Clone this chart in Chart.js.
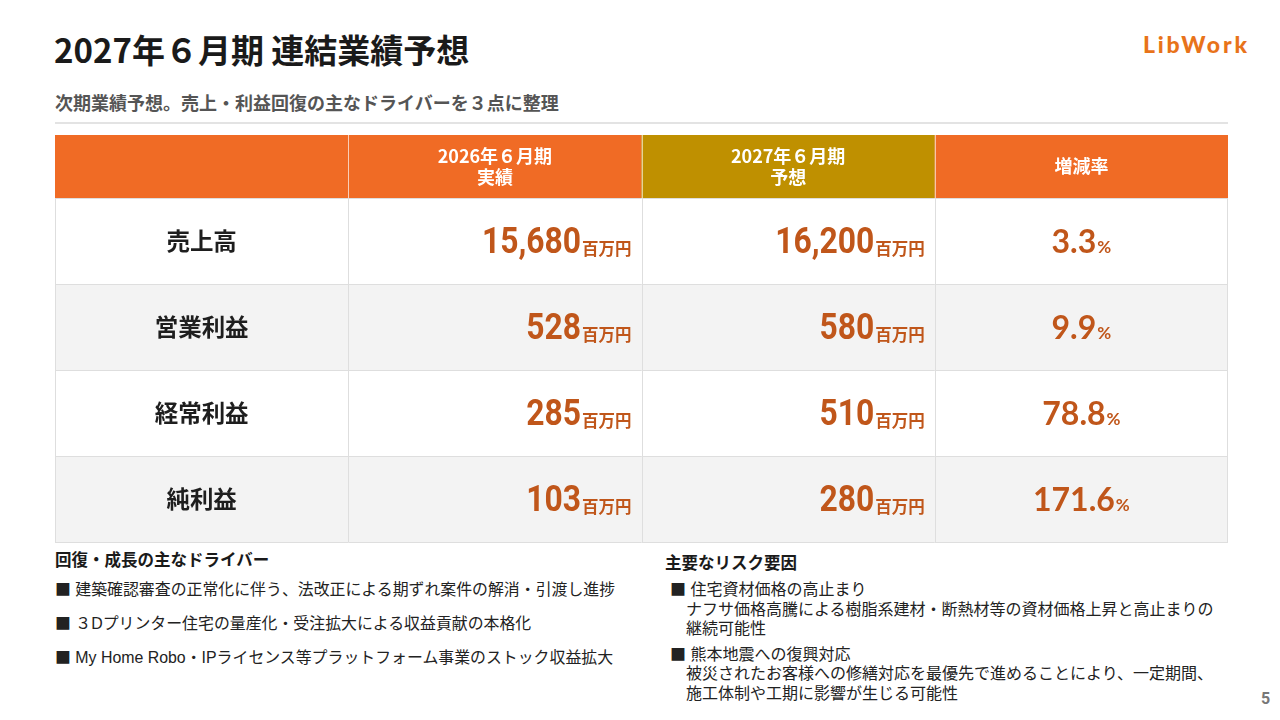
<!DOCTYPE html>
<html lang="ja">
<head>
<meta charset="utf-8">
<title>2027年６月期 連結業績予想</title>
<script src="https://cdn.jsdelivr.net/npm/chart.js@4.4.1/dist/chart.umd.min.js"></script>
<style>
  html, body { margin: 0; padding: 0; background: #fff; }
  body { width: 1280px; height: 720px; position: relative; overflow: hidden;
         font-family: "Noto Sans CJK JP", "Noto Sans", sans-serif; color: #222; }
  .title { position: absolute; left: 54px; top: 25px; font-size: 33px; font-weight: 700; color: #1a1a1a; }
  .logo { position: absolute; left: 1143px; top: 30px; font-family: Lato, "Open Sans", sans-serif; font-size: 23px; font-weight: 900; color: #E8731A; letter-spacing: 2.8px; }
  .subtitle { position: absolute; left: 55px; top: 89px; font-size: 18px; font-weight: 700; color: #555; }
  .rule { position: absolute; left: 55px; top: 122px; width: 1173px; height: 2px; background: #e3e3e3; }
  #tableWrap { position: absolute; left: 55px; top: 135px; width: 1173px; height: 408px; }
  .block { position: absolute; font-family: "Liberation Sans", Arial, "Noto Sans CJK JP", sans-serif; color: #222; }
  .block h3 { margin: 0; font-family: "Noto Sans CJK JP", sans-serif; font-size: 16.5px; font-weight: 700; color: #1a1a1a; }
  .sq { font-family: "Noto Sans CJK JP", sans-serif; }
  .left { left: 55px; top: 547px; }
  .left p { margin: 0; font-size: 15.9px; line-height: 33px; white-space: nowrap; }
  .left h3 { margin-bottom: 1px; }
  .right { left: 665px; top: 550px; }
  .right h3 { margin-bottom: 5px; }
  .right .item { font-size: 16px; line-height: 19.5px; margin: 0 0 5px 5px; white-space: nowrap; }
  .right .item span.ln { display: block; padding-left: 16px; }
  .right .item span.head { display: block; padding-left: 0; }
  .page { position: absolute; left: 1261px; top: 689px; font-family: Roboto, sans-serif; font-weight: 700; font-size: 16px; color: #777; }
</style>
</head>
<body>
<div class="title">2027年６月期 連結業績予想</div>
<div class="logo">LibWork</div>
<div class="subtitle">次期業績予想。売上・利益回復の主なドライバーを３点に整理</div>
<div class="rule"></div>

<div id="tableWrap"><canvas id="forecastTable" width="1173" height="408"></canvas></div>

<div class="block left">
  <h3>回復・成長の主なドライバー</h3>
  <p><span class="sq">■</span> 建築確認審査の正常化に伴う、法改正による期ずれ案件の解消・引渡し進捗</p>
  <p><span class="sq">■</span> ３Dプリンター住宅の量産化・受注拡大による収益貢献の本格化</p>
  <p><span class="sq">■</span> My Home Robo・IPライセンス等プラットフォーム事業のストック収益拡大</p>
</div>

<div class="block right">
  <h3>主要なリスク要因</h3>
  <div class="item">
    <span class="head"><span class="sq">■</span> 住宅資材価格の高止まり</span>
    <span class="ln">ナフサ価格高騰による樹脂系建材・断熱材等の資材価格上昇と高止まりの</span>
    <span class="ln">継続可能性</span>
  </div>
  <div class="item">
    <span class="head"><span class="sq">■</span> 熊本地震への復興対応</span>
    <span class="ln">被災されたお客様への修繕対応を最優先で進めることにより、一定期間、</span>
    <span class="ln">施工体制や工期に影響が生じる可能性</span>
  </div>
</div>

<div class="page">5</div>

<script>
// table data
const rowLabels = ['売上高', '営業利益', '経常利益', '純利益'];
const columnKeys = ['item', 'actual', 'forecast', 'change'];
const columnHeaders = [[''], ['2026年６月期', '実績'], ['2027年６月期', '予想'], ['増減率']];
const actual2026 = [15680, 528, 285, 103];     // 百万円
const forecast2027 = [16200, 580, 510, 280];   // 百万円
const changeRate = [3.3, 9.9, 78.8, 171.6];    // %
const unitLabel = '百万円';

const HEADER_H = 63;
const headerColors = ['#F06B25', '#F06B25', '#BF9000', '#F06B25'];
const valueColor = '#C0561A';
const NUM_SQUEEZE = 0.86; // numbers in the source use a condensed face

const tablePlugin = {
    id: 'tableCells',
    afterDraw(chart) {
        const { ctx, chartArea, scales: { x, y } } = chart;
        const colW = chartArea.width / columnKeys.length;
        const rowH = chartArea.height / rowLabels.length;

        ctx.save();

        // header row (sits in the top padding)
        columnKeys.forEach((key, c) => {
            const cx = x.getPixelForValue(c);
            const left = cx - colW / 2;
            ctx.fillStyle = headerColors[c];
            ctx.fillRect(left, chartArea.top - HEADER_H, colW, HEADER_H);
            ctx.fillStyle = '#fff';
            ctx.font = '700 18px "Noto Sans CJK JP", sans-serif';
            ctx.textAlign = 'center';
            ctx.textBaseline = 'middle';
            const lines = columnHeaders[c];
            const midY = chartArea.top - HEADER_H / 2;
            lines.forEach((line, i) => {
                const off = (i - (lines.length - 1) / 2) * 21;
                ctx.fillText(line, cx, midY + off);
            });
        });
        // light dividers in the header
        ctx.strokeStyle = 'rgba(255,255,255,0.6)';
        ctx.lineWidth = 1;
        for (let c = 1; c < columnKeys.length; c++) {
            const xe = Math.round(x.getPixelForValue(c) - colW / 2) + 0.5;
            ctx.beginPath();
            ctx.moveTo(xe, chartArea.top - HEADER_H);
            ctx.lineTo(xe, chartArea.top);
            ctx.stroke();
        }

        // body rows
        rowLabels.forEach((label, r) => {
            const cy = y.getPixelForValue(r);
            const top = cy - rowH / 2;
            ctx.fillStyle = r % 2 === 0 ? '#ffffff' : '#F3F3F3';
            ctx.fillRect(chartArea.left, top, chartArea.width, rowH);

            // item label
            ctx.fillStyle = '#1e1e1e';
            ctx.font = '700 23.5px "Noto Sans CJK JP", sans-serif';
            ctx.textAlign = 'center';
            ctx.textBaseline = 'middle';
            ctx.fillText(label, x.getPixelForValue(0), cy);

            // amounts, right aligned
            const baseY = cy + 12;
            [actual2026[r], forecast2027[r]].forEach((v, k) => {
                const right = x.getPixelForValue(k + 1) + colW / 2 - 10;
                ctx.textBaseline = 'alphabetic';
                ctx.textAlign = 'right';
                ctx.fillStyle = valueColor;
                ctx.font = '700 16.5px "Noto Sans CJK JP", sans-serif';
                const unitW = ctx.measureText(unitLabel).width;
                ctx.fillText(unitLabel, right, baseY + 2);
                ctx.save();
                ctx.translate(right - unitW - 1, baseY);
                ctx.scale(NUM_SQUEEZE, 1);
                ctx.font = '700 37px Roboto, sans-serif';
                ctx.fillText(v.toLocaleString('en-US'), 0, 0);
                ctx.restore();
            });

            // change rate, centered
            const num = changeRate[r].toFixed(1);
            ctx.font = '700 32px Lato, sans-serif';
            const numW = ctx.measureText(num).width;
            ctx.font = '700 17px Lato, sans-serif';
            const pctW = ctx.measureText('%').width;
            const startX = x.getPixelForValue(3) - (numW + pctW + 1) / 2;
            ctx.textAlign = 'left';
            ctx.fillStyle = valueColor;
            ctx.font = '700 32px Lato, sans-serif';
            ctx.fillText(num, startX, baseY);
            ctx.font = '700 17px Lato, sans-serif';
            ctx.fillText('%', startX + numW + 1, baseY);
        });

        // grid lines of the body
        ctx.strokeStyle = '#DEDEDE';
        ctx.lineWidth = 1;
        for (let r = 0; r <= rowLabels.length; r++) {
            const yy = Math.round(chartArea.top + r * rowH) + 0.5;
            ctx.beginPath();
            ctx.moveTo(chartArea.left, yy);
            ctx.lineTo(chartArea.right, yy);
            ctx.stroke();
        }
        for (let c = 0; c <= columnKeys.length; c++) {
            const xe = Math.min(Math.round(chartArea.left + c * colW), chartArea.right - 1) + 0.5;
            ctx.beginPath();
            ctx.moveTo(xe, chartArea.top);
            ctx.lineTo(xe, chartArea.bottom);
            ctx.stroke();
        }

        ctx.restore();
    }
};

new Chart(document.getElementById('forecastTable'), {
    type: 'bar',
    data: {
        labels: columnKeys,
        datasets: []
    },
    options: {
        responsive: false,
        animation: false,
        layout: { padding: { top: HEADER_H, left: 0, right: 0, bottom: 1 } },
        scales: {
            x: { type: 'category', offset: true, display: false },
            y: { type: 'category', labels: rowLabels, offset: true, display: false }
        },
        plugins: {
            legend: { display: false },
            tooltip: { enabled: false }
        }
    },
    plugins: [tablePlugin]
});
</script>
</body>
</html>
